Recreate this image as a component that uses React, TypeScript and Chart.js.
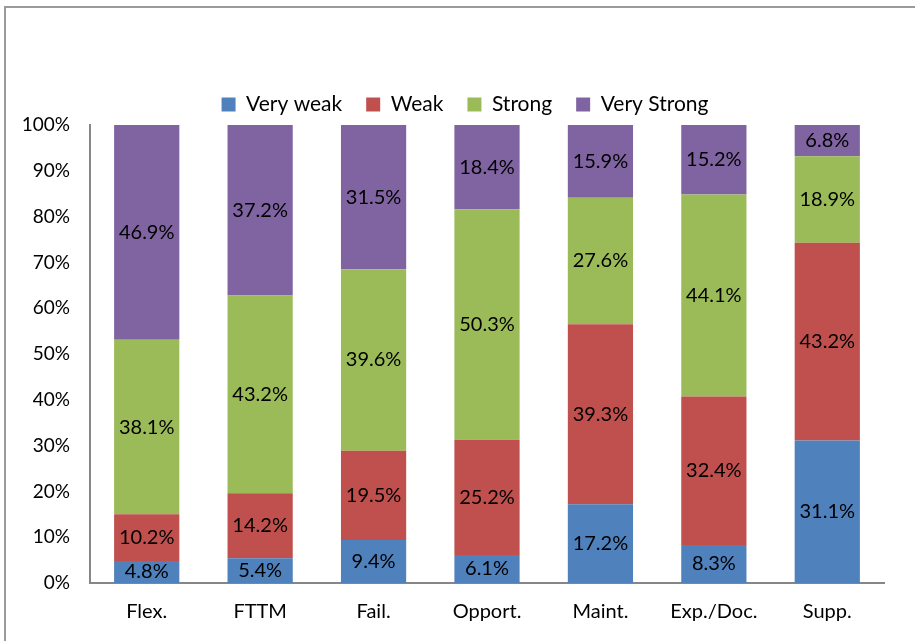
import React, { useEffect, useRef } from "react";
import { Chart, registerables } from "chart.js";

Chart.register(...registerables);

const categories = ["Flex.", "FTTM", "Fail.", "Opport.", "Maint.", "Exp./Doc.", "Supp."];
const veryWeak = [4.8, 5.4, 9.4, 6.1, 17.2, 8.3, 31.1];
const weak = [10.2, 14.2, 19.5, 25.2, 39.3, 32.4, 43.2];
const strong = [38.1, 43.2, 39.6, 50.3, 27.6, 44.1, 18.9];
const veryStrong = [46.9, 37.2, 31.5, 18.4, 15.9, 15.2, 6.8];
const seriesNames = ["Very weak", "Weak", "Strong", "Very Strong"];
const seriesColors = ["#4F81BD", "#C0504D", "#9BBB59", "#8064A2"];

const FONT = "Lato, 'Open Sans', sans-serif";

const dataLabelPlugin = {
  id: "dataLabels",
  afterDatasetsDraw(chart: any) {
    const ctx = chart.ctx;
    ctx.save();
    ctx.font = `20px ${FONT}`;
    ctx.fillStyle = "#000";
    ctx.textAlign = "center";
    ctx.textBaseline = "middle";
    chart.data.datasets.forEach((ds: any, di: number) => {
      const meta = chart.getDatasetMeta(di);
      meta.data.forEach((bar: any, i: number) => {
        const v = ds.data[i];
        const y = (bar.y + bar.base) / 2;
        ctx.fillText(v.toFixed(1) + "%", bar.x, y);
      });
    });
    ctx.restore();
  },
};

export default function App() {
  const ref = useRef<HTMLCanvasElement>(null);
  useEffect(() => {
    document.body.style.margin = "0";
    const all = [veryWeak, weak, strong, veryStrong];
    const chart = new Chart(ref.current!, {
      type: "bar",
      data: {
        labels: categories,
        datasets: all.map((d, i) => ({
          label: seriesNames[i],
          data: d,
          backgroundColor: seriesColors[i],
          borderWidth: 0,
          categoryPercentage: 1,
          barPercentage: 0.575,
        })),
      },
      options: {
        animation: false,
        responsive: false,
        devicePixelRatio: 1,
        layout: { padding: { top: 70, right: 0, left: 15, bottom: 0 } },
        plugins: {
          legend: {
            position: "top",
            labels: {
              font: { family: FONT, size: 21 },
              color: "#000",
              boxWidth: 14,
              boxHeight: 14,
              padding: 24,
            },
          },
          tooltip: { enabled: false },
        },
        scales: {
          x: {
            stacked: true,
            grid: { display: false },
            border: { display: true, color: "#868686", width: 2 },
            ticks: { font: { family: FONT, size: 20 }, color: "#000", padding: 9 },
            afterFit: (s: any) => { s.height = 58; },
          },
          y: {
            stacked: true,
            min: 0,
            max: 100,
            grid: { display: false, drawTicks: false },
            border: { display: true, color: "#868686", width: 2 },
            ticks: {
              stepSize: 10,
              font: { family: FONT, size: 19 },
              color: "#000",
              padding: 20,
              callback: (v: any) => v + "%",
            },
            afterFit: (s: any) => { s.width = 75; },
          },
          yPad: {
            position: "right",
            min: 0,
            max: 100,
            grid: { display: false, drawTicks: false },
            border: { display: false },
            ticks: { display: false },
            afterFit: (s: any) => { s.width = 31; },
          },
        },
      },
      plugins: [dataLabelPlugin],
    });
    return () => chart.destroy();
  }, []);
  return (
    <div style={{ position: "relative", width: 915, height: 641, overflow: "hidden", background: "#fff" }}>
      <div
        style={{
          position: "absolute",
          left: 4,
          top: 6,
          width: 1000,
          height: 1000,
          border: "2px solid #9a9a9a",
        }}
      />
      <canvas ref={ref} width={915} height={641} style={{ position: "absolute", left: 0, top: 0 }} />
    </div>
  );
}
